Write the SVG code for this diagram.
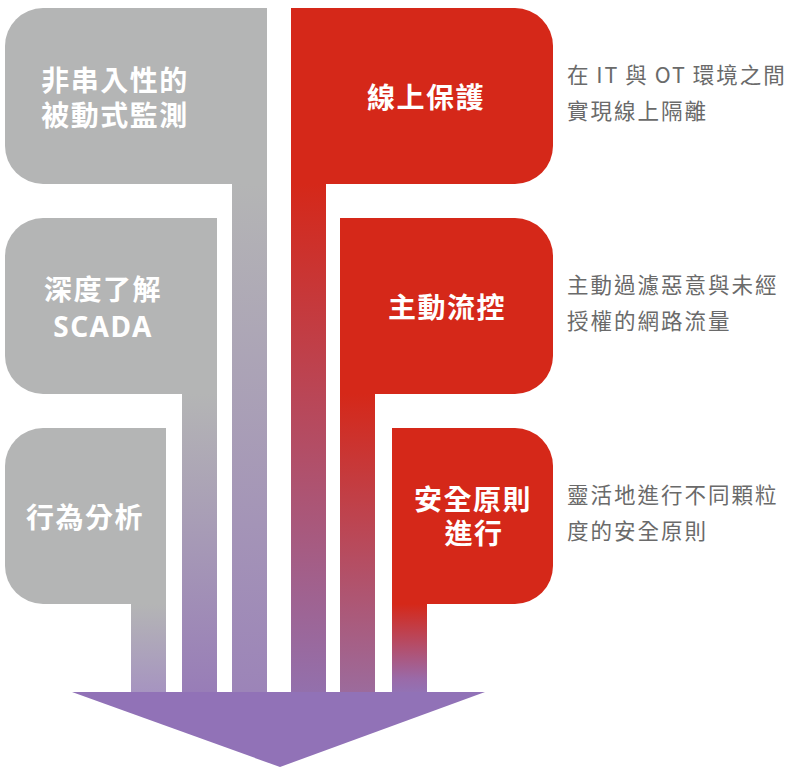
<svg xmlns="http://www.w3.org/2000/svg" width="789" height="767" viewBox="0 0 789 767">
  <style>
    .gray { fill: #b4b5b5; }
    .red { fill: #d52819; }
    .lbl { font-family: "Noto Sans CJK TC", "Noto Sans", sans-serif; font-size: 28px; font-weight: bold; fill: #ffffff; text-anchor: middle; letter-spacing: 1.5px; }
    .lat { font-family: "Noto Sans", "Noto Sans CJK TC", sans-serif; }
    .desc { font-family: "Noto Sans CJK TC", "Noto Sans", sans-serif; font-size: 21.5px; fill: #6a6a6a; letter-spacing: 2px; }
  </style>
  <defs>
    <linearGradient id="gG1" gradientUnits="userSpaceOnUse" x1="0" y1="184" x2="0" y2="692">
      <stop offset="0" stop-color="#b4b5b5"/>
      <stop offset="1" stop-color="#9c84b8"/>
    </linearGradient>
    <linearGradient id="gG2" gradientUnits="userSpaceOnUse" x1="0" y1="394" x2="0" y2="692">
      <stop offset="0" stop-color="#b4b5b5"/>
      <stop offset="1" stop-color="#987db7"/>
    </linearGradient>
    <linearGradient id="gG3" gradientUnits="userSpaceOnUse" x1="0" y1="604" x2="0" y2="692">
      <stop offset="0" stop-color="#b4b5b5"/>
      <stop offset="1" stop-color="#a694c0"/>
    </linearGradient>
    <linearGradient id="gR1" gradientUnits="userSpaceOnUse" x1="0" y1="184" x2="0" y2="692">
      <stop offset="0" stop-color="#d52819"/>
      <stop offset="1" stop-color="#9370ac"/>
    </linearGradient>
    <linearGradient id="gR2" gradientUnits="userSpaceOnUse" x1="0" y1="394" x2="0" y2="692">
      <stop offset="0" stop-color="#d52819"/>
      <stop offset="1" stop-color="#9c6b9c"/>
    </linearGradient>
    <linearGradient id="gR3" gradientUnits="userSpaceOnUse" x1="0" y1="604" x2="0" y2="692">
      <stop offset="0" stop-color="#d52819"/>
      <stop offset="0.85" stop-color="#9a6aa8"/>
      <stop offset="1" stop-color="#9372b4"/>
    </linearGradient>
  </defs>

  <g id="connectors">
    <rect x="232" y="183" width="35" height="510" fill="url(#gG1)"/>
    <rect x="182" y="393" width="35" height="300" fill="url(#gG2)"/>
    <rect x="131" y="603" width="35" height="90" fill="url(#gG3)"/>
    <rect x="291" y="183" width="35" height="510" fill="url(#gR1)"/>
    <rect x="340" y="393" width="35" height="300" fill="url(#gR2)"/>
    <rect x="392" y="603" width="35" height="90" fill="url(#gR3)"/>
    <polygon id="arrow" points="72,692 485,692 280,767" fill="#9172b7"/>
  </g>

  <g id="node-passive">
    <path class="gray" d="M43,8 H267 V184 H43 A38,38 0 0 1 5,146 V46 A38,38 0 0 1 43,8 Z"/>
    <text class="lbl" x="115" y="91">非串入性的</text>
    <text class="lbl" x="115" y="126">被動式監測</text>
  </g>

  <g id="node-scada">
    <path class="gray" d="M43,218 H217 V394 H43 A38,38 0 0 1 5,356 V256 A38,38 0 0 1 43,218 Z"/>
    <text class="lbl" x="103" y="300">深度了解</text>
    <text class="lbl lat" x="103" y="337" font-weight="600">SCADA</text>
  </g>

  <g id="node-behavior">
    <path class="gray" d="M43,428 H166 V604 H43 A38,38 0 0 1 5,566 V466 A38,38 0 0 1 43,428 Z"/>
    <text class="lbl" x="85" y="528">行為分析</text>
  </g>

  <g id="node-online">
    <path class="red" d="M291,8 H515 A38,38 0 0 1 553,46 V146 A38,38 0 0 1 515,184 H291 Z"/>
    <text class="lbl" x="426" y="108">線上保護</text>
    <text class="desc" x="567" y="83" word-spacing="-1">在 IT 與 OT 環境之間</text>
    <text class="desc" x="567" y="119">實現線上隔離</text>
  </g>

  <g id="node-flow">
    <path class="red" d="M340,218 H515 A38,38 0 0 1 553,256 V356 A38,38 0 0 1 515,394 H340 Z"/>
    <text class="lbl" x="447" y="318">主動流控</text>
    <text class="desc" x="567" y="293">主動過濾惡意與未經</text>
    <text class="desc" x="567" y="329">授權的網路流量</text>
  </g>

  <g id="node-policy">
    <path class="red" d="M392,428 H515 A38,38 0 0 1 553,466 V566 A38,38 0 0 1 515,604 H392 Z"/>
    <text class="lbl" x="473" y="510">安全原則</text>
    <text class="lbl" x="474" y="544">進行</text>
    <text class="desc" x="567" y="503">靈活地進行不同顆粒</text>
    <text class="desc" x="567" y="539">度的安全原則</text>
  </g>
</svg>
